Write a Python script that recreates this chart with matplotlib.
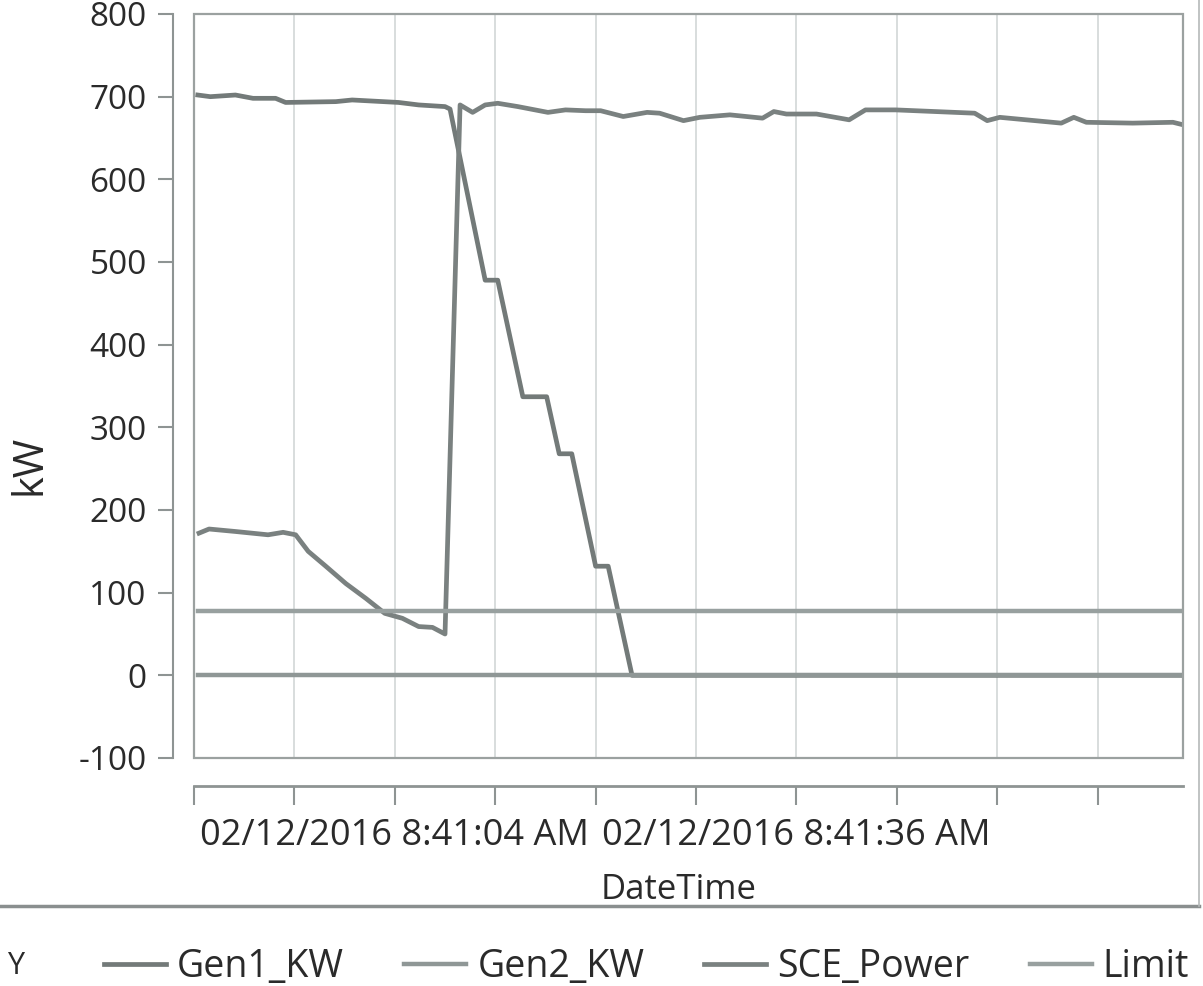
import matplotlib
matplotlib.use("Agg")
import matplotlib.pyplot as plt
from matplotlib.patches import Rectangle
from matplotlib.lines import Line2D
from matplotlib.ticker import FixedLocator, FuncFormatter
from datetime import datetime, timedelta

plt.rcParams['font.family'] = ['Open Sans', 'DejaVu Sans']
plt.rcParams['axes.unicode_minus'] = False

# seconds after 02/12/2016 8:40:48 AM
t0 = datetime(2016, 2, 12, 8, 40, 48)

gen1_t = [0.3, 1.3, 3.3, 4.7, 6.5, 7.3, 11.3, 12.6, 16.3, 17.9, 20.0, 20.4,
          23.2, 24.2, 26.2, 28.1, 29.1, 30.1, 32.0, 33.0, 34.9, 78.8]
gen1_kw = [702, 700, 702, 698, 698, 693, 694, 696, 693, 690, 688, 685,
           478, 478, 337, 337, 268, 268, 132, 132, 0, 0]

gen2_t = [0.3, 78.8]
gen2_kw = [0, 0]

sce_t = [0.4, 1.2, 3.3, 5.9, 7.1, 8.1, 9.1, 10.5, 12.1, 13.7,
         15.2, 16.6, 17.9, 19.0, 20.0, 21.2, 22.2, 23.2, 24.2, 25.8,
         28.2, 29.6, 31.2, 32.4, 34.2, 36.1, 37.1, 39.0, 40.3, 42.7,
         45.3, 46.2, 47.2, 49.6, 52.2, 53.5, 55.9, 62.2, 63.2, 64.2,
         69.1, 70.1, 71.1, 74.8, 78.0, 78.8]
sce_kw = [172, 177, 174, 170, 173, 170, 150, 132, 111, 93,
          75, 69, 59, 58, 50, 690, 681, 690, 692, 688,
          681, 684, 683, 683, 676, 681, 680, 671, 675, 678,
          674, 682, 679, 679, 672, 684, 684, 680, 671, 675,
          668, 675, 669, 668, 669, 666]

limit_t = [0.3, 78.8]
limit_kw = [78, 78]

x_ticks = [0, 8, 16, 24, 32, 40, 48, 56, 64, 72]
labeled_ticks = [16, 48]
y_ticks = list(range(-100, 801, 100))

fig = plt.figure(figsize=(12.03, 9.86), dpi=100)
ax = fig.add_axes([194 / 1203, 1 - 758 / 986, (1183 - 194) / 1203, (758 - 14) / 986])

ax.plot(gen1_t, gen1_kw, color='#737a79', lw=3.4, label='Gen1_KW', solid_joinstyle='round')
ax.plot(gen2_t, gen2_kw, color='#8f9796', lw=3.2, label='Gen2_KW')
ax.plot(sce_t, sce_kw, color='#7a8180', lw=3.4, label='SCE_Power', solid_joinstyle='round')
ax.plot(limit_t, limit_kw, color='#98a09f', lw=3.2, label='Limit')

ax.set_xlim(0, 78.8)
ax.set_ylim(-100, 800)

# grid: vertical lines only
ax.xaxis.set_major_locator(FixedLocator(x_ticks))
ax.grid(axis='x', color='#d6dada', lw=1.3)
ax.set_axisbelow(True)

def fmt_time(x, pos):
    if round(x) in labeled_ticks:
        d = t0 + timedelta(seconds=float(x))
        return d.strftime('%m/%d/%Y ') + f'{d.hour % 12}:{d:%M:%S} ' + d.strftime('%p')
    return ''

ax.xaxis.set_major_formatter(FuncFormatter(fmt_time))
ax.set_yticks(y_ticks)

# frame around the plot
ax.add_patch(Rectangle((0, 0), 1, 1, transform=ax.transAxes, fill=False,
                       ec='#9ba1a0', lw=1.6, clip_on=False, zorder=5))
for s in ['top', 'right']:
    ax.spines[s].set_visible(False)
ax.spines['left'].set_position(('outward', 15))
ax.spines['bottom'].set_position(('outward', 20))
ax.spines['left'].set_color('#8e9493')
ax.spines['bottom'].set_color('#8e9493')
ax.spines['left'].set_linewidth(1.5)
ax.spines['bottom'].set_linewidth(2.0)

ax.tick_params(axis='y', length=11, width=1.5, color='#8e9493', pad=8,
               labelsize=24, labelcolor='#2a2a2a')
ax.tick_params(axis='x', length=14, width=1.5, color='#8e9493', pad=9,
               labelsize=26, labelcolor='#2a2a2a')

ax.set_xlabel('DateTime', fontsize=25, color='#2a2a2a', labelpad=4)
ax.xaxis.set_label_coords(0.49, -0.155)
fig.text(30 / 1203, 1 - 465 / 986, 'kW', rotation=90, fontsize=30,
         color='#2a2a2a', ha='center', va='center')

# outer box of the graph
fig.add_artist(Line2D([0, 1199 / 1203], [1 - 906 / 986] * 2, color='#8a8f8f', lw=2.5))
fig.add_artist(Line2D([1199 / 1203] * 2, [1 - 906 / 986, 1], color='#b5b9b9', lw=1.2))

# legend
fig.text(16 / 1203, 1 - 966 / 986, 'Y', fontsize=22, color='#2a2a2a',
         ha='center', va='center')
handles, labels = ax.get_legend_handles_labels()
fig.legend(handles, labels, loc='center left', bbox_to_anchor=(104 / 1203, 1 - 967 / 986),
           ncol=4, frameon=False, fontsize=27, borderpad=0, borderaxespad=0,
           handlelength=1.65, handletextpad=0.3, columnspacing=1.6, labelcolor='#2a2a2a')

fig.savefig('out.png', dpi=100)
